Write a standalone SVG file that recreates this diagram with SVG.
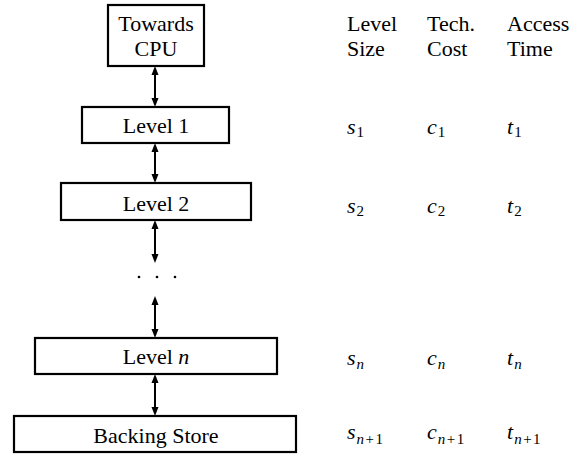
<svg xmlns="http://www.w3.org/2000/svg" width="587" height="455" viewBox="0 0 587 455">
<rect width="587" height="455" fill="#fff"/>
<g id="connectors" stroke="#000" stroke-width="2" fill="#000">
<line x1="155" y1="72" x2="155" y2="101"/>
<polygon stroke="none" points="155,66 151.5,75 158.5,75"/>
<polygon stroke="none" points="155,107 151.5,98 158.5,98"/>
<line x1="155" y1="149" x2="155" y2="177"/>
<polygon stroke="none" points="155,143 151.5,152 158.5,152"/>
<polygon stroke="none" points="155,183 151.5,174 158.5,174"/>
<line x1="155" y1="226" x2="155" y2="257"/>
<polygon stroke="none" points="155,220 151.5,229 158.5,229"/>
<polygon stroke="none" points="155,263 151.5,254 158.5,254"/>
<line x1="155" y1="302" x2="155" y2="332"/>
<polygon stroke="none" points="155,296 151.5,305 158.5,305"/>
<polygon stroke="none" points="155,338 151.5,329 158.5,329"/>
<line x1="155" y1="380" x2="155" y2="410"/>
<polygon stroke="none" points="155,374 151.5,383 158.5,383"/>
<polygon stroke="none" points="155,416 151.5,407 158.5,407"/>
</g>
<g id="cpu">
<rect x="108" y="5" width="96" height="61" fill="#fff" stroke="#000" stroke-width="2.2"/>
<text x="156" y="31" font-size="22" font-family="Liberation Serif" text-anchor="middle">Towards</text>
<text x="156" y="56" font-size="22" font-family="Liberation Serif" text-anchor="middle">CPU</text>
</g>
<g id="level1">
<rect x="82" y="107" width="147" height="36" fill="#fff" stroke="#000" stroke-width="2.2"/>
<text x="156" y="133" font-size="22" font-family="Liberation Serif" text-anchor="middle">Level 1</text>
</g>
<g id="level2">
<rect x="61" y="183" width="190" height="37" fill="#fff" stroke="#000" stroke-width="2.2"/>
<text x="156" y="211" font-size="22" font-family="Liberation Serif" text-anchor="middle">Level 2</text>
</g>
<g id="dots" fill="#000">
<circle cx="139" cy="277" r="1.3"/>
<circle cx="157" cy="277" r="1.3"/>
<circle cx="175" cy="277" r="1.3"/>
</g>
<g id="leveln">
<rect x="35" y="338" width="242" height="36" fill="#fff" stroke="#000" stroke-width="2.2"/>
<text x="156" y="364" font-size="22" font-family="Liberation Serif" text-anchor="middle">Level <tspan font-style="italic">n</tspan></text>
</g>
<g id="backing">
<rect x="14" y="416" width="282" height="36" fill="#fff" stroke="#000" stroke-width="2.2"/>
<text x="156" y="443" font-size="22" font-family="Liberation Serif" text-anchor="middle">Backing Store</text>
</g>
<g id="table">
<text x="347" y="31" font-size="22" font-family="Liberation Serif">Level</text>
<text x="347" y="56" font-size="22" font-family="Liberation Serif">Size</text>
<text x="427" y="31" font-size="22" font-family="Liberation Serif">Tech.</text>
<text x="427" y="56" font-size="22" font-family="Liberation Serif">Cost</text>
<text x="507" y="31" font-size="22" font-family="Liberation Serif">Access</text>
<text x="507" y="56" font-size="22" font-family="Liberation Serif">Time</text>
<text x="347" y="134" font-size="22" font-family="Liberation Serif"><tspan font-style="italic">s</tspan><tspan font-size="15" dx="1" dy="3">1</tspan></text>
<text x="427" y="134" font-size="22" font-family="Liberation Serif"><tspan font-style="italic">c</tspan><tspan font-size="15" dx="1" dy="3">1</tspan></text>
<text x="507" y="134" font-size="22" font-family="Liberation Serif"><tspan font-style="italic">t</tspan><tspan font-size="15" dx="1" dy="3">1</tspan></text>
<text x="347" y="213" font-size="22" font-family="Liberation Serif"><tspan font-style="italic">s</tspan><tspan font-size="15" dx="1" dy="3">2</tspan></text>
<text x="427" y="213" font-size="22" font-family="Liberation Serif"><tspan font-style="italic">c</tspan><tspan font-size="15" dx="1" dy="3">2</tspan></text>
<text x="507" y="213" font-size="22" font-family="Liberation Serif"><tspan font-style="italic">t</tspan><tspan font-size="15" dx="1" dy="3">2</tspan></text>
<text x="347" y="365" font-size="22" font-family="Liberation Serif"><tspan font-style="italic">s</tspan><tspan font-size="15" font-style="italic" dx="1" dy="4">n</tspan></text>
<text x="427" y="365" font-size="22" font-family="Liberation Serif"><tspan font-style="italic">c</tspan><tspan font-size="15" font-style="italic" dx="1" dy="4">n</tspan></text>
<text x="507" y="365" font-size="22" font-family="Liberation Serif"><tspan font-style="italic">t</tspan><tspan font-size="15" font-style="italic" dx="1" dy="4">n</tspan></text>
<text x="347" y="439" font-size="22" font-family="Liberation Serif"><tspan font-style="italic">s</tspan><tspan font-size="15" dx="1" dy="5"><tspan font-style="italic">n</tspan><tspan dx="1.5">+</tspan><tspan dx="1.5">1</tspan></tspan></text>
<text x="427" y="439" font-size="22" font-family="Liberation Serif"><tspan font-style="italic">c</tspan><tspan font-size="15" dx="1" dy="5"><tspan font-style="italic">n</tspan><tspan dx="1.5">+</tspan><tspan dx="1.5">1</tspan></tspan></text>
<text x="507" y="439" font-size="22" font-family="Liberation Serif"><tspan font-style="italic">t</tspan><tspan font-size="15" dx="1" dy="5"><tspan font-style="italic">n</tspan><tspan dx="1.5">+</tspan><tspan dx="1.5">1</tspan></tspan></text>
</g>
</svg>
